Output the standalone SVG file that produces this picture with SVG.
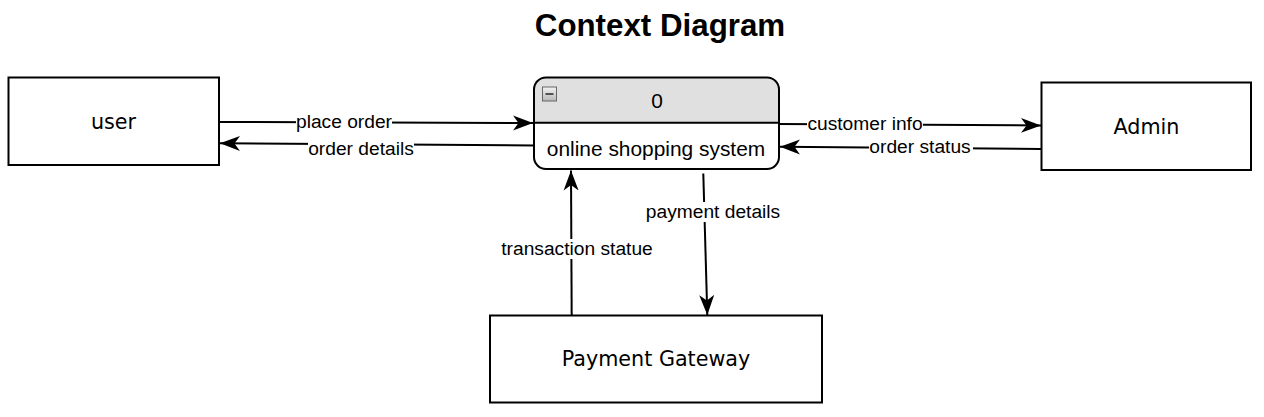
<svg xmlns="http://www.w3.org/2000/svg" width="1264" height="417" viewBox="0 0 1264 417">
<style>
.box{fill:#fff;stroke:#000;stroke-width:2}
.ent{font-family:"DejaVu Sans",Verdana,sans-serif;font-size:20.7px;fill:#000;text-anchor:middle}
.proc{font-family:"Liberation Sans",Arial,sans-serif;font-size:20.9px;fill:#000;text-anchor:middle}
.lbl{font-family:"Liberation Sans",Arial,sans-serif;font-size:19.2px;fill:#000;text-anchor:middle}
.lblbg{fill:#fff}
.edge{fill:none;stroke:#000;stroke-width:2;marker-end:url(#arr)}
</style>
<defs>
<marker id="arr" markerUnits="userSpaceOnUse" markerWidth="22" markerHeight="18" viewBox="0 0 22 18" refX="20" refY="9" orient="auto">
<path d="M0,1.5 L20,9 L0,16.5 L5.5,9 Z" fill="#000"/>
</marker>
<linearGradient id="ig" x1="0" y1="0" x2="0" y2="1">
<stop offset="0" stop-color="#f2f2f2"/>
<stop offset="1" stop-color="#b8b8b8"/>
</linearGradient>
</defs>
<text x="660" y="36" font-family="Liberation Sans,Arial,sans-serif" font-size="31.3px" font-weight="bold" text-anchor="middle">Context Diagram</text>
<g id="connectors">
<line class="edge" x1="219" y1="122" x2="533" y2="123"/>
<rect class="lblbg" x="296" y="112" width="96" height="20"/>
<text class="lbl" x="344" y="128">place order</text>
<line class="edge" x1="534" y1="145.5" x2="220" y2="143.3"/>
<rect class="lblbg" x="308" y="139" width="106" height="20"/>
<text class="lbl" x="361" y="155">order details</text>
<line class="edge" x1="779" y1="124" x2="1041" y2="125.5"/>
<rect class="lblbg" x="807" y="114" width="116" height="20"/>
<text class="lbl" x="865" y="130">customer info</text>
<line class="edge" x1="1041" y1="149" x2="780" y2="146.7"/>
<rect class="lblbg" x="869" y="137" width="104" height="20"/>
<text class="lbl" x="920" y="153">order status</text>
<line class="edge" x1="703.3" y1="173.5" x2="707.3" y2="315"/>
<rect class="lblbg" x="645" y="202" width="136" height="20"/>
<text class="lbl" x="713" y="218">payment details</text>
<line class="edge" x1="571.7" y1="319" x2="571" y2="170.5"/>
<rect class="lblbg" x="500" y="239" width="154" height="20"/>
<text class="lbl" x="577" y="255">transaction statue</text>
</g>
<g id="user">
<rect class="box" x="8.5" y="77.5" width="210.5" height="87.5"/>
<text class="ent" x="113.5" y="128.5">user</text>
</g>
<g id="admin">
<rect class="box" x="1041.5" y="82.5" width="209.5" height="87.5"/>
<text class="ent" x="1146.5" y="133.5">Admin</text>
</g>
<g id="payment-gateway">
<rect class="box" x="490" y="315.5" width="332" height="87"/>
<text class="ent" x="656" y="366">Payment Gateway</text>
</g>
<g id="process-0">
<path d="M534,122.7 V89.5 A12,12 0 0 1 546,77.5 H767 A12,12 0 0 1 779,89.5 V122.7 Z" fill="#e0e0e0" stroke="none"/>
<rect x="534" y="77.5" width="245" height="91.5" rx="12" ry="12" fill="none" stroke="#000" stroke-width="2"/>
<line x1="534" y1="122.7" x2="779" y2="122.7" stroke="#000" stroke-width="2"/>
<rect x="542.5" y="87" width="14" height="14" fill="url(#ig)" stroke="#666" stroke-width="1"/>
<line x1="545.5" y1="94" x2="553.5" y2="94" stroke="#333" stroke-width="1.6"/>
<text class="proc" x="657" y="107.5">0</text>
<text class="proc" x="656" y="155.5">online shopping system</text>
</g>
</svg>
